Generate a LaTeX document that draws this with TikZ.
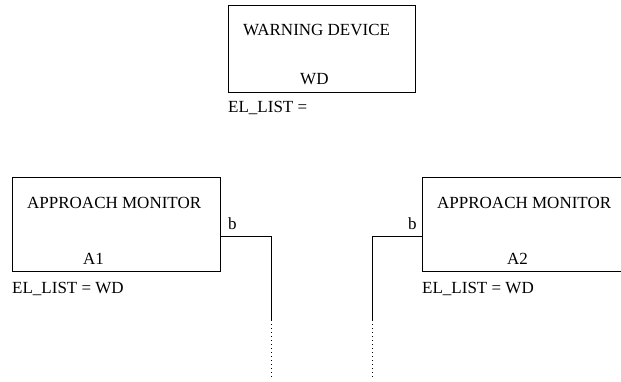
\documentclass[tikz,border=0pt]{standalone}
\usepackage{fontspec}
\setmainfont{Liberation Serif}
\begin{document}
\begin{tikzpicture}[x=1pt,y=-1pt,
  box/.style={draw,line width=0.9pt,inner sep=0pt},
  lbl/.style={anchor=base west,inner sep=0pt,font=\fontsize{17}{20}\selectfont},
  wire/.style={line width=0.9pt},
  tail/.style={line width=0.9pt,dash pattern=on 1pt off 3pt}]
\useasboundingbox (0,0) rectangle (621,381);
\clip (0,0) rectangle (621,381);

% warning device
\node[box,minimum width=187pt,minimum height=87pt] (wd) at (321.5,48.5) {};
\node[lbl] (wdname) at (243,35) {WARNING DEVICE};
\node[lbl] (wdid) at (300,84.5) {WD};
\node[lbl] (wdlist) at (228,112) {EL\_LIST =};

% approach monitor A1
\node[box,minimum width=208pt,minimum height=94pt] (a1) at (116,224) {};
\node[lbl] (a1name) at (27,208) {APPROACH MONITOR};
\node[lbl] (a1id) at (83,264) {A1};
\node[lbl] (a1list) at (12,293) {EL\_LIST = WD};
\node[lbl] (a1port) at (228,229) {b};

% approach monitor A2 (runs past the right edge)
\node[box,minimum width=208pt,minimum height=94pt] (a2) at (526,224) {};
\node[lbl] (a2name) at (437,208) {APPROACH MONITOR};
\node[lbl] (a2id) at (507,264) {A2};
\node[lbl] (a2list) at (422,293) {EL\_LIST = WD};
\node[lbl] (a2port) at (408,229) {b};

% port b wires
\coordinate (a1b) at ([yshift=-12pt]a1.east);
\coordinate (a1d) at (271,320);
\coordinate (a1e) at (271,379);
\draw[wire] (a1b) -| (a1d);
\draw[tail] (a1d) -- (a1e);

\coordinate (a2b) at ([yshift=-12pt]a2.west);
\coordinate (a2d) at (372,320);
\coordinate (a2e) at (372,379);
\draw[wire] (a2b) -| (a2d);
\draw[tail] (a2d) -- (a2e);
\end{tikzpicture}
\end{document}
